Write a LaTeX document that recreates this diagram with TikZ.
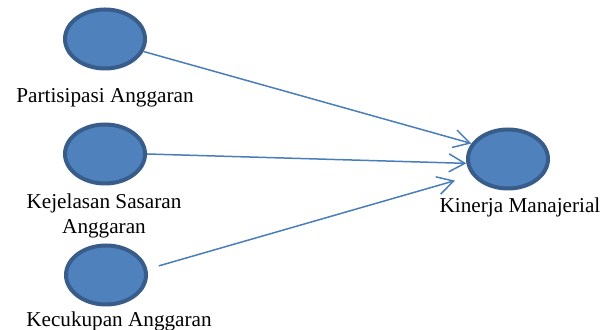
\documentclass[tikz,border=0pt]{standalone}
\usepackage{fontspec}
\setmainfont{Liberation Serif}
\usetikzlibrary{shapes.geometric, arrows.meta}

\definecolor{OvalFill}{HTML}{4F81BD}
\definecolor{OvalRand}{HTML}{385D8A}
\definecolor{PfeilBlau}{HTML}{4A7EBB}

\begin{document}
\begin{tikzpicture}
	[x=0.5pt, y=-0.5pt,														%1 unit = 1 pixel of the reference
	 Variabel/.style={ellipse, draw=OvalRand, fill=OvalFill, line width=2pt,
	                  minimum width=40pt, minimum height=29.5pt, inner sep=0pt},	%Options for the ovals
	 Beschriftung/.style={anchor=base, align=center, font=\fontsize{10.6}{12.5}\selectfont},	%Options for the labels
	 Pfeil/.style={draw=PfeilBlau, line width=0.75pt, -{Straight Barb[length=8pt, width=9pt]}}	%Options for the arrows
	]

	\useasboundingbox (0,0) rectangle (601,330);		%Fix the margins

	\node[Variabel] (Partisipasi) at (105,39) {};		%Oval X1
	\node[Variabel] (Kejelasan) at (105,154) {};		%Oval X2
	\node[Variabel] (Kecukupan) at (106,275) {};		%Oval X3
	\node[Variabel] (Kinerja) at (508,159) {};			%Oval Y

	\node[Beschriftung] (PartisipasiText) at (105,103) {Partisipasi Anggaran};
	\node[Beschriftung] (KejelasanText) at (104,234) {Kejelasan Sasaran\\Anggaran};	%base = last line
	\node[Beschriftung] (KecukupanText) at (119,327) {Kecukupan Anggaran};
	\node[Beschriftung] (KinerjaText) at (520,213) {Kinerja Manajerial};

	\draw[Pfeil] (Partisipasi.-18) -- (Kinerja.157);	%X1 -> Y
	\draw[Pfeil] (Kejelasan.east) -- (Kinerja.-174);	%X2 -> Y
	\draw[Pfeil, shorten <=6pt, shorten >=9pt] (Kecukupan.8) -- (Kinerja.205);	%X3 -> Y

\end{tikzpicture}
\end{document}
